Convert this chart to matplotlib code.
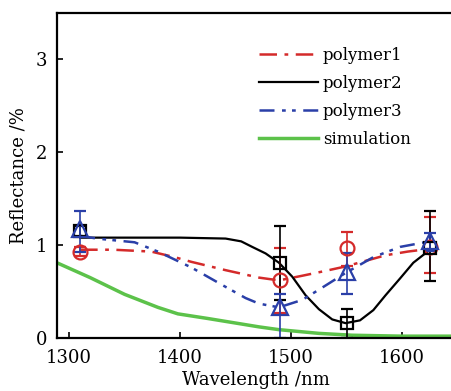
import numpy as np
import matplotlib
matplotlib.use("Agg")
import matplotlib.pyplot as plt

# ---------------------------------- data ---------------------------------- #
wl_pts = [1310, 1490, 1550, 1625]

p1_pts = [0.93, 0.62, 0.97, 0.98]
p1_err_lo = [0.05, 0.35, 0.20, 0.28]
p1_err_hi = [0.05, 0.35, 0.17, 0.32]

p2_pts = [1.15, 0.81, 0.16, 0.97]
p2_err_lo = [0.05, 0.40, 0.16, 0.36]
p2_err_hi = [0.05, 0.39, 0.15, 0.40]

p3_pts = [1.17, 0.33, 0.71, 1.04]
p3_err_lo = [0.24, 0.33, 0.24, 0.10]
p3_err_hi = [0.20, 0.14, 0.21, 0.09]

# fitted curves
p1_wl = [1310, 1340, 1374, 1395, 1410, 1441, 1471, 1489, 1510, 1530, 1549, 1570, 1585, 1605, 1625]
p1_curve = [0.95, 0.95, 0.93, 0.87, 0.82, 0.73, 0.65, 0.62, 0.67, 0.72, 0.77, 0.84, 0.89, 0.93, 0.96]

p2_wl = [1310, 1350, 1400, 1441, 1455, 1465, 1477, 1489, 1501, 1513, 1525, 1537, 1549, 1562,
         1574, 1585, 1598, 1610, 1625]
p2_curve = [1.08, 1.08, 1.08, 1.07, 1.04, 0.98, 0.91, 0.81, 0.66, 0.46, 0.31, 0.20, 0.16, 0.19,
            0.30, 0.46, 0.64, 0.81, 0.95]

p3_wl = [1310, 1325, 1359, 1380, 1410, 1441, 1459, 1471, 1489, 1510, 1525, 1549, 1574, 1598, 1625]
p3_curve = [1.10, 1.07, 1.03, 0.93, 0.76, 0.55, 0.43, 0.37, 0.33, 0.41, 0.52, 0.70, 0.87, 0.98, 1.04]

sim_wl = [1289, 1319, 1350, 1380, 1398, 1425, 1471, 1489, 1525, 1555, 1600, 1650]
sim_curve = [0.81, 0.65, 0.47, 0.33, 0.26, 0.21, 0.12, 0.09, 0.05, 0.03, 0.02, 0.02]

# ---------------------------------- plot ---------------------------------- #
plt.rcParams['font.family'] = ['DejaVu Serif']
plt.rcParams['mathtext.fontset'] = 'dejavuserif'

fig = plt.figure(figsize=(4.51, 3.91), dpi=100)
ax = fig.add_axes([0.126, 0.1355, 0.884, 0.832])

red = '#d42a2a'
blue = '#2a3fa8'
green = '#5cc24a'

ax.plot(p1_wl, p1_curve, color=red, lw=1.8, dashes=[7, 3, 1.5, 3], label='polymer1')
ax.plot(p2_wl, p2_curve, color='black', lw=1.6, label='polymer2')
ax.plot(p3_wl, p3_curve, color=blue, lw=1.8, dashes=[6, 3, 1.5, 2.5, 1.5, 3], label='polymer3')
ax.plot(sim_wl, sim_curve, color=green, lw=2.5, label='simulation')

ms = 10
ax.errorbar(wl_pts, p1_pts, yerr=[p1_err_lo, p1_err_hi], fmt='o', mfc='none', mec=red,
            ecolor=red, mew=1.6, ms=ms, capsize=4, elinewidth=1.2, capthick=1.2)
ax.errorbar(wl_pts, p2_pts, yerr=[p2_err_lo, p2_err_hi], fmt='s', mfc='none', mec='black',
            ecolor='black', mew=1.6, ms=ms - 1, capsize=4, elinewidth=1.2, capthick=1.2)
ax.errorbar(wl_pts, p3_pts, yerr=[p3_err_lo, p3_err_hi], fmt='^', mfc='none', mec=blue,
            ecolor=blue, mew=1.6, ms=ms + 1, capsize=4, elinewidth=1.2, capthick=1.2)

ax.set_xlim(1289, 1648)
ax.set_ylim(0, 3.5)
ax.set_xticks([1300, 1400, 1500, 1600])
ax.set_yticks([0, 1, 2, 3])
ax.tick_params(direction='in', length=4, width=1.2, labelsize=13)
ax.tick_params(axis='x', pad=8)
ax.tick_params(axis='y', pad=7)
for s in ax.spines.values():
    s.set_linewidth(1.6)

ax.set_xlabel('Wavelength /nm', fontsize=13, labelpad=3)
ax.set_ylabel('Reflectance /%', fontsize=13, labelpad=6)

ax.legend(loc='upper right', bbox_to_anchor=(0.925, 0.94), frameon=False, fontsize=12,
          handlelength=3.5, handletextpad=0.3, labelspacing=0.65)

fig.savefig('out.png', dpi=100)
